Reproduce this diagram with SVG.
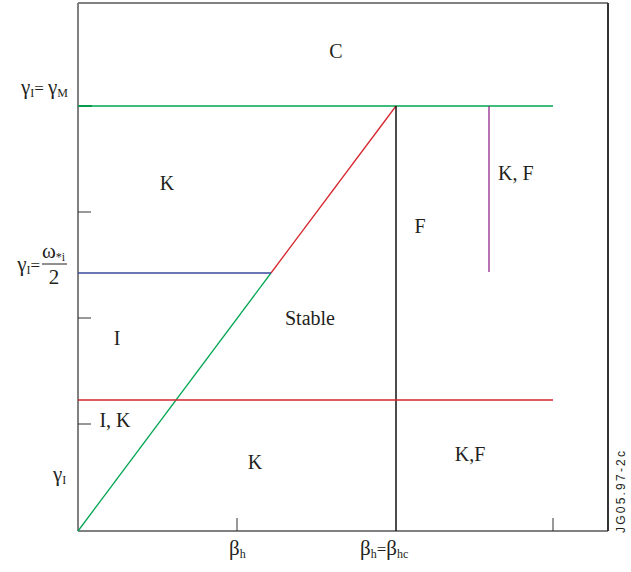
<svg xmlns="http://www.w3.org/2000/svg" width="631" height="572" viewBox="0 0 631 572">
<style>
text{font-family:"Liberation Serif","Times New Roman",serif;fill:#231f20}
.lbl{font-size:17px}
.reg{font-size:20px}
.gk{font-size:21px}
.sub{font-size:12px}
.frame{fill:none;stroke:#808080;stroke-width:2}
.tick{stroke:#333;stroke-width:1}
.id{font-family:"Liberation Sans",Arial,sans-serif;font-size:12px}
</style>
<rect width="631" height="572" fill="#fff"/>
<g id="axes">
<line class="frame" x1="78" y1="3" x2="608" y2="3"/>
<line class="frame" x1="78" y1="3" x2="78" y2="531"/>
<line class="frame" x1="78" y1="531" x2="608" y2="531"/>
<line x1="608" y1="3" x2="608" y2="531" stroke="#333" stroke-width="2"/>
<line x1="78" y1="106" x2="92" y2="106" stroke="#1a7a3a" stroke-width="2"/>
<line class="tick" x1="78" y1="212" x2="91" y2="212"/>
<line class="tick" x1="78" y1="318" x2="91" y2="318"/>
<line class="tick" x1="78" y1="424" x2="91" y2="424"/>
<line class="tick" x1="237" y1="518" x2="237" y2="531"/>
<line class="tick" x1="553" y1="518" x2="553" y2="531"/>
</g>
<g id="connectors">
<line x1="78" y1="106" x2="553" y2="106" stroke="#00a651" stroke-width="1.3"/>
<line x1="78" y1="531" x2="271" y2="273" stroke="#00a651" stroke-width="1.3"/>
<line x1="271" y1="273" x2="396" y2="106" stroke="#d7262e" stroke-width="1.3"/>
<line x1="396" y1="106" x2="396" y2="531" stroke="#111" stroke-width="1.5"/>
<line x1="489" y1="106" x2="489" y2="272" stroke="#92278f" stroke-width="1.3"/>
<line x1="78" y1="273" x2="271" y2="273" stroke="#3a4ba0" stroke-width="1.3"/>
<line x1="78" y1="400" x2="553" y2="400" stroke="#d7262e" stroke-width="1.3"/>
</g>
<g id="regions">
<text class="reg" x="336" y="58" text-anchor="middle">C</text>
<text class="reg" x="167" y="190" text-anchor="middle">K</text>
<text class="reg" x="420" y="233" text-anchor="middle">F</text>
<text class="reg" x="498" y="180">K, F</text>
<text class="reg" x="310" y="325" text-anchor="middle">Stable</text>
<text class="reg" x="117" y="345" text-anchor="middle">I</text>
<text class="reg" x="115" y="427" text-anchor="middle">I, K</text>
<text class="reg" x="255" y="469" text-anchor="middle">K</text>
<text class="reg" x="470" y="461" text-anchor="middle">K,F</text>
</g>
<g id="ylabels">
<text class="lbl" x="68" y="94" text-anchor="end"><tspan class="gk">γ</tspan><tspan class="sub" dy="3">I</tspan><tspan dy="-3">= </tspan><tspan class="gk">γ</tspan><tspan class="sub" dy="3">M</tspan></text>
<text class="lbl" x="40" y="271" text-anchor="end"><tspan class="gk">γ</tspan><tspan class="sub" dy="3">I</tspan><tspan dy="-3">=</tspan></text>
<text class="lbl" x="42" y="258"><tspan class="gk">ω</tspan><tspan class="sub" dy="3">*i</tspan></text>
<line x1="42" y1="264" x2="67" y2="264" stroke="#231f20" stroke-width="1"/>
<text class="gk" x="54" y="284" text-anchor="middle">2</text>
<text class="lbl" x="53" y="481"><tspan class="gk">γ</tspan><tspan class="sub" dy="3">I</tspan></text>
</g>
<g id="xlabels">
<text class="lbl" x="229" y="555"><tspan class="gk">β</tspan><tspan class="sub" dy="3">h</tspan></text>
<text class="lbl" x="360" y="555"><tspan class="gk">β</tspan><tspan class="sub" dy="3">h</tspan><tspan dy="-3">=</tspan><tspan class="gk">β</tspan><tspan class="sub" dy="3">hc</tspan></text>
</g>
<text class="id" transform="translate(625,533) rotate(-90)" textLength="82" lengthAdjust="spacing">JG05.97-2c</text>
</svg>
